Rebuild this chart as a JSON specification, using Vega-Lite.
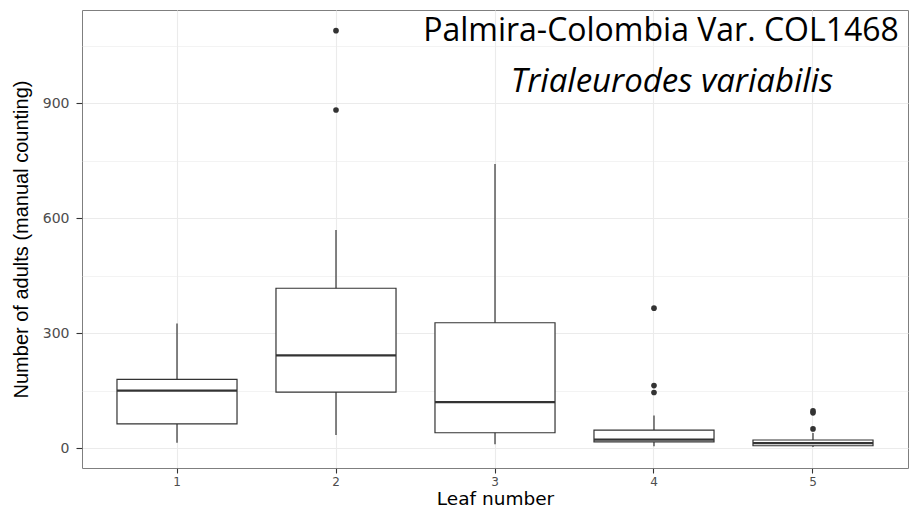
{
  "$schema": "https://vega.github.io/schema/vega-lite/v6.json",
  "width": 826,
  "height": 458,
  "autosize": {"type": "none"},
  "padding": {"left": 82, "top": 10, "right": 1, "bottom": 44},
  "background": "white",
  "config": {
    "view": {"stroke": "#7F7F7F", "strokeWidth": 1},
    "font": "DejaVu Sans"
  },
  "datasets": {
    "boxes": [
      {"leaf": "1", "lower": 14, "q1": 63, "median": 150, "q3": 179, "upper": 325},
      {"leaf": "2", "lower": 34, "q1": 146, "median": 242, "q3": 417, "upper": 569},
      {"leaf": "3", "lower": 10, "q1": 40, "median": 120, "q3": 327, "upper": 741},
      {"leaf": "4", "lower": 5, "q1": 16, "median": 22, "q3": 47, "upper": 85},
      {"leaf": "5", "lower": 3, "q1": 6, "median": 13, "q3": 21, "upper": 39}
    ],
    "outliers": [
      {"leaf": "2", "value": 1089},
      {"leaf": "2", "value": 882},
      {"leaf": "4", "value": 365},
      {"leaf": "4", "value": 163},
      {"leaf": "4", "value": 145},
      {"leaf": "5", "value": 97},
      {"leaf": "5", "value": 92},
      {"leaf": "5", "value": 50}
    ]
  },
  "layer": [
    {
      "data": {"name": "boxes"},
      "mark": {"type": "rule", "color": "#333333", "strokeWidth": 1.2},
      "encoding": {
        "x": {
          "field": "leaf",
          "type": "nominal",
          "scale": {"type": "band", "paddingInner": 0.245, "paddingOuter": 0.22},
          "axis": {
            "title": "Leaf number",
            "labelAngle": 0,
            "domain": false,
            "grid": true,
            "gridColor": "#EBEBEB",
            "gridWidth": 1.1,
            "bandPosition": 0.5,
            "tickColor": "#333333",
            "tickSize": 5,
            "tickWidth": 1.1,
            "labelColor": "#4D4D4D",
            "labelFont": "DejaVu Sans",
            "labelFontSize": 12,
            "labelPadding": 3,
            "titleFont": "DejaVu Sans",
            "titleFontSize": 18.5,
            "titleFontWeight": "normal",
            "titleColor": "black",
            "titlePadding": 2
          }
        },
        "y": {
          "field": "lower",
          "type": "quantitative",
          "scale": {"domain": [-52, 1143], "nice": false, "zero": false},
          "axis": {
            "title": "Number of adults (manual counting)",
            "values": [0, 150, 300, 450, 600, 750, 900, 1050],
            "labelExpr": "datum.value % 300 === 0 ? datum.label : ''",
            "domain": false,
            "grid": true,
            "gridColor": "#EBEBEB",
            "gridWidth": {"condition": {"test": "datum.value % 300 === 0", "value": 1.1}, "value": 0.6},
            "tickColor": {"condition": {"test": "datum.value % 300 === 0", "value": "#333333"}, "value": "transparent"},
            "tickSize": 6,
            "tickWidth": 1.1,
            "labelColor": "#4D4D4D",
            "labelFont": "DejaVu Sans",
            "labelFontSize": 14,
            "labelPadding": 7,
            "titleFont": "Liberation Sans",
            "titleFontSize": 20,
            "titleFontWeight": "normal",
            "titleColor": "black",
            "titlePadding": 11
          }
        },
        "y2": {"field": "upper"}
      }
    },
    {
      "data": {"name": "boxes"},
      "mark": {"type": "bar", "fill": "white", "stroke": "#333333", "strokeWidth": 1.2},
      "encoding": {
        "x": {"field": "leaf", "type": "nominal"},
        "y": {"field": "q1", "type": "quantitative"},
        "y2": {"field": "q3"}
      }
    },
    {
      "data": {"name": "boxes"},
      "mark": {"type": "tick", "color": "#333333", "thickness": 2.2, "size": 120, "opacity": 1},
      "encoding": {
        "x": {"field": "leaf", "type": "nominal"},
        "y": {"field": "median", "type": "quantitative"}
      }
    },
    {
      "data": {"name": "outliers"},
      "mark": {"type": "point", "filled": true, "color": "#333333", "size": 32, "opacity": 1},
      "encoding": {
        "x": {"field": "leaf", "type": "nominal"},
        "y": {"field": "value", "type": "quantitative"}
      }
    },
    {
      "data": {"values": [{"label": "Palmira-Colombia Var. COL1468"}]},
      "mark": {"type": "text", "font": "Open Sans", "fontSize": 32, "align": "center", "baseline": "alphabetic", "dx": 7, "color": "black"},
      "encoding": {
        "x": {"datum": "4", "type": "nominal"},
        "y": {"datum": 1062, "type": "quantitative"},
        "text": {"field": "label"}
      }
    },
    {
      "data": {"values": [{"label": "Trialeurodes variabilis"}]},
      "mark": {"type": "text", "font": "Open Sans", "fontSize": 33, "fontStyle": "italic", "align": "center", "baseline": "alphabetic", "dx": 18, "color": "black"},
      "encoding": {
        "x": {"datum": "4", "type": "nominal"},
        "y": {"datum": 929, "type": "quantitative"},
        "text": {"field": "label"}
      }
    }
  ]
}
